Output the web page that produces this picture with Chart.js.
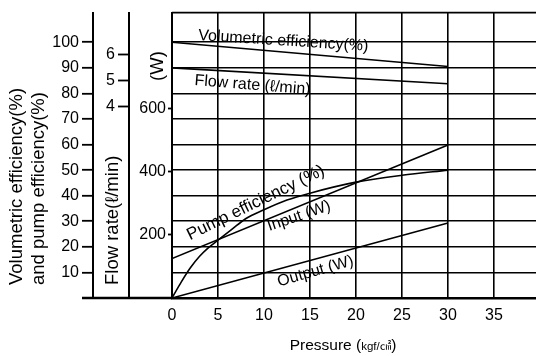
<!DOCTYPE html>
<html>
<head>
<meta charset="utf-8">
<script src="https://cdn.jsdelivr.net/npm/chart.js@4"></script>
<style>
  body { margin: 0; background: #fff; }
  #wrap { width: 536px; height: 356px; }
</style>
</head>
<body>
<div id="wrap"><canvas id="myChart" width="536" height="356"></canvas></div>
<script>
'use strict';

// values
const pressure = [0, 30];
const volEff = [100, 90.5];        // %
const flowRate = [5.5, 4.88];      // l/min
const inputW = [125, 484];         // W
const outputW = [0, 237];          // W
const pumpPressure = [0, 1, 2, 3, 4, 5, 6.5, 8, 10, 12.5, 15, 20, 25, 30];
const pumpEff = [0, 6.2, 11.8, 16.3, 19.8, 22.6, 26.8, 31, 34.5, 38.3, 41, 45.3, 48, 50];

const pressureTicks = [0, 5, 10, 15, 20, 25, 30, 35];
const pctTicks = [10, 20, 30, 40, 50, 60, 70, 80, 90, 100];
const flowTicks = [4, 5, 6];
const wattTicks = [200, 400, 600];

const FONT = "'Liberation Sans', Arial, 'Noto Sans CJK JP', sans-serif";
Chart.defaults.color = '#000';
Chart.defaults.font.family = FONT;

function toPoints(xs, ys) {
  return xs.map((x, i) => ({ x: x, y: ys[i] }));
}

function setTicks(list) {
  return (scale) => { scale.ticks = list.map(v => ({ value: v })); };
}

const lineStyle = {
  borderColor: '#000',
  borderWidth: 1.6,
  pointRadius: 0,
  fill: false,
  tension: 0
};

// labels written along the curves (position in pressure / % units)
const notes = [
  { text: 'Volumetric efficiency(%)', p: 12.1, v: 100.5, angle: 3.7, size: 16 },
  { text: 'Flow rate (\u2113/min)', p: 8.75, v: 83.2, angle: 4.5, size: 16 },
  { text: 'Pump efficiency (%)', p: 9.1, v: 37.2, angle: -26, size: 17 },
  { text: 'Input (W)', p: 13.8, v: 32, angle: -19, size: 16 },
  { text: 'Output (W)', p: 15.6, v: 10.4, angle: -16, size: 16 }
];

const extras = {
  id: 'extras',
  afterDraw(chart) {
    const c = chart.ctx;
    const a = chart.chartArea;
    const xs = chart.scales.x;
    const yp = chart.scales.yPct;
    c.save();
    c.strokeStyle = '#000';
    c.fillStyle = '#000';

    // top frame line and bottom line running under the left axes
    c.lineWidth = 1.6;
    c.beginPath();
    c.moveTo(a.left, a.top);
    c.lineTo(a.right, a.top);
    c.stroke();
    c.lineWidth = 2.5;
    c.beginPath();
    c.moveTo(yp.right - 11, a.bottom);
    c.lineTo(a.left, a.bottom);
    c.stroke();

    // curve labels
    notes.forEach(n => {
      c.save();
      c.translate(xs.getPixelForValue(n.p), yp.getPixelForValue(n.v));
      c.rotate(n.angle * Math.PI / 180);
      c.font = n.size + 'px ' + FONT;
      c.textAlign = 'center';
      c.textBaseline = 'middle';
      c.fillText(n.text, 0, 0);
      c.restore();
    });

    // left axis titles (rotated)
    c.font = '18.5px ' + FONT;
    c.textBaseline = 'middle';
    const rot = (txt, x, y, align) => {
      c.save();
      c.translate(x, y);
      c.rotate(-Math.PI / 2);
      c.textAlign = align;
      c.fillText(txt, 0, 0);
      c.restore();
    };
    rot('Volumetric efficiency(%)', 17, 285, 'left');
    rot('and pump efficiency(%)', 39, 285, 'left');
    rot('Flow rate(\u2113/min)', 113, 285, 'left');
    rot('(W)', 158, 66, 'center');

    // x axis title, unit in a smaller size
    const parts = [['Pressure (', 15.5], ['kgf/\u33A0', 11.5], [')', 15.5]];
    let total = 0;
    parts.forEach(pt => { c.font = pt[1] + 'px ' + FONT; total += c.measureText(pt[0]).width; });
    let px = 343 - total / 2;
    c.textAlign = 'left';
    c.textBaseline = 'alphabetic';
    parts.forEach(pt => {
      c.font = pt[1] + 'px ' + FONT;
      c.fillText(pt[0], px, 350);
      px += c.measureText(pt[0]).width;
    });
    c.restore();
  }
};

const ctx = document.getElementById('myChart');

let mainChart = new Chart(ctx, {
  type: 'line',
  data: {
    datasets: [
      Object.assign({ label: 'Volumetric efficiency', data: toPoints(pressure, volEff), yAxisID: 'yPct' }, lineStyle),
      Object.assign({ label: 'Flow rate', data: toPoints(pressure, flowRate), yAxisID: 'yFlow' }, lineStyle),
      Object.assign({ label: 'Pump efficiency', data: toPoints(pumpPressure, pumpEff), yAxisID: 'yPct', cubicInterpolationMode: 'monotone' }, lineStyle),
      Object.assign({ label: 'Input', data: toPoints(pressure, inputW), yAxisID: 'yW' }, lineStyle),
      Object.assign({ label: 'Output', data: toPoints(pressure, outputW), yAxisID: 'yW' }, lineStyle)
    ]
  },
  options: {
    responsive: false,
    animation: false,
    layout: { padding: { top: 9, left: 0, right: 0, bottom: 0 } },
    plugins: {
      legend: { display: false },
      tooltip: { enabled: false }
    },
    scales: {
      x: {
        type: 'linear',
        min: 0,
        max: 39.57,
        afterBuildTicks: setTicks(pressureTicks),
        afterFit: (s) => { s.height = 58; },
        grid: { color: '#000', lineWidth: 1.6, drawTicks: false },
        border: { display: true, color: '#000', width: 2.5 },
        ticks: { padding: 8, font: { size: 16 }, maxRotation: 0 }
      },
      yPct: {
        position: 'left',
        weight: 3,
        min: 0,
        max: 111.6,
        afterBuildTicks: setTicks(pctTicks),
        afterFit: (s) => { s.width = 93; },
        grid: { color: '#000', lineWidth: 1.6, tickColor: '#000', tickLength: 11, tickWidth: 1.8 },
        border: { display: true, color: '#000', width: 2 },
        ticks: { padding: 3, font: { size: 16 } }
      },
      yFlow: {
        position: 'left',
        weight: 2,
        min: -3.46,
        max: 7.65,
        afterBuildTicks: setTicks(flowTicks),
        afterFit: (s) => { s.width = 36; },
        grid: { drawOnChartArea: false, tickColor: '#000', tickLength: 11, tickWidth: 1.8 },
        border: { display: true, color: '#000', width: 2 },
        ticks: { padding: 3, font: { size: 16 } }
      },
      yW: {
        position: 'left',
        weight: 1,
        min: 0,
        max: 903,
        afterBuildTicks: setTicks(wattTicks),
        afterFit: (s) => { s.width = 43; },
        grid: { drawOnChartArea: false, tickColor: '#000', tickLength: 4, tickWidth: 1.8 },
        border: { display: true, color: '#000', width: 2 },
        ticks: { padding: 2, font: { size: 16 } }
      }
    }
  },
  plugins: [extras]
});
</script>
</body>
</html>
